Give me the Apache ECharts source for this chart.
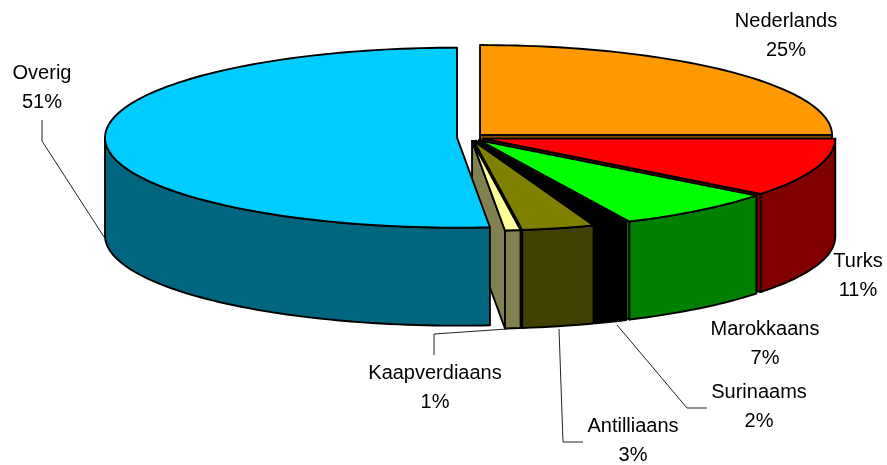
<!DOCTYPE html>
<html>
<head>
    <meta charset="UTF-8">
    <title>Herkomst</title>
    <script src="https://cdn.jsdelivr.net/npm/echarts@6/dist/echarts.min.js"></script>
    <style>
        html, body { margin: 0; padding: 0; background: #fff; }
        #main { width: 887px; height: 465px; }
    </style>
</head>
<body>
<div id="main"></div>
<script>
    // waarden (labels tonen ze afgerond)
    var names = ['Nederlands', 'Turks', 'Marokkaans', 'Surinaams', 'Antilliaans', 'Kaapverdiaans', 'Overig'];
    var values = [25, 10.55, 7.42, 1.5, 3.33, 0.71, 51.49];

    var topColors = ['#FF9900', '#FF0000', '#00FF00', '#000000', '#808000', '#FFFF99', '#00CCFF'];
    var sideColors = ['#804D00', '#800000', '#008000', '#000000', '#404000', '#808050', '#006680'];

    // middelpunt, stralen, hoogte en explosie van de taart
    var pie = { cx: 470.5, cy: 137.5, rx: 352, ry: 90, depth: 98, explode: 13.5 };

    // plaats van de labels (midden) en de hulplijnen
    var labelPos = [[786, 36], [858, 276], [765, 344], [759, 407], [633, 441], [435, 388], [42, 88]];
    var leaders = [
        null,
        null,
        null,
        [[617, 325], [687, 408], [707, 408]],
        [[559, 329], [563, 442], [583, 442]],
        [[507, 329], [434, 334], [434, 355]],
        [[42, 120], [42, 141], [106, 240]]
    ];

    var total = values.reduce(function (a, b) { return a + b; }, 0);

    function rad(deg) { return deg * Math.PI / 180; }

    function arc(c, from, to, dy) {
        var pts = [];
        var n = Math.max(2, Math.ceil(Math.abs(to - from) / 1.5));
        for (var k = 0; k <= n; k++) {
            var a = rad(from + (to - from) * k / n);
            pts.push([c[0] + pie.rx * Math.sin(a), c[1] - pie.ry * Math.cos(a) + dy]);
        }
        return pts;
    }

    function poly(points, fill) {
        return {
            type: 'polygon',
            shape: { points: points },
            style: { fill: fill, stroke: '#000', lineWidth: 1.9, lineJoin: 'round' },
            silent: true
        };
    }

    function renderSlice(params, api) {
        var i = api.value(0);
        var start = 0;
        for (var j = 0; j < i; j++) start += values[j] / total * 360;
        var end = start + values[i] / total * 360;
        var mid = rad((start + end) / 2);
        var c = [
            pie.cx + pie.explode * Math.sin(mid),
            pie.cy - pie.explode * pie.ry / pie.rx * Math.cos(mid)
        ];
        var children = [];

        // snijvlak aan het einde van de punt, alleen aan de rechterkant zichtbaar
        if (end <= 180) {
            var e = arc(c, end, end, 0)[0];
            children.push(poly([c, e, [e[0], e[1] + pie.depth], [c[0], c[1] + pie.depth]], sideColors[i]));
        }

        // buitenwand
        var from = Math.max(start, 90);
        var to = Math.min(end, 270);
        if (to > from) {
            var up = arc(c, from, to, 0);
            var down = arc(c, to, from, pie.depth);
            children.push(poly(up.concat(down), sideColors[i]));
        }

        // bovenvlak
        children.push(poly([c].concat(arc(c, start, end, 0)), topColors[i]));

        return { type: 'group', children: children };
    }

    function renderLabel(params, api) {
        var i = api.value(0);
        var children = [{
            type: 'text',
            x: labelPos[i][0],
            y: labelPos[i][1],
            silent: true,
            style: {
                text: names[i] + '\n' + Math.round(values[i]) + '%',
                fontFamily: '"Liberation Sans", Arial, sans-serif',
                fontSize: 20,
                lineHeight: 29,
                fill: '#000',
                align: 'center',
                verticalAlign: 'middle'
            }
        }];
        if (leaders[i]) {
            children.push({
                type: 'polyline',
                shape: { points: leaders[i] },
                style: { fill: 'none', stroke: '#222', lineWidth: 1 },
                silent: true
            });
        }
        return { type: 'group', children: children };
    }

    var rows = names.map(function (n, i) { return [i, values[i]]; });

    var myChart = echarts.init(document.getElementById('main'), null, { renderer: 'canvas' });
    myChart.setOption({
        animation: false,
        backgroundColor: '#fff',
        series: [
            { type: 'custom', coordinateSystem: 'none', renderItem: renderSlice, data: rows },
            { type: 'custom', coordinateSystem: 'none', renderItem: renderLabel, data: rows }
        ]
    });
</script>
</body>
</html>
